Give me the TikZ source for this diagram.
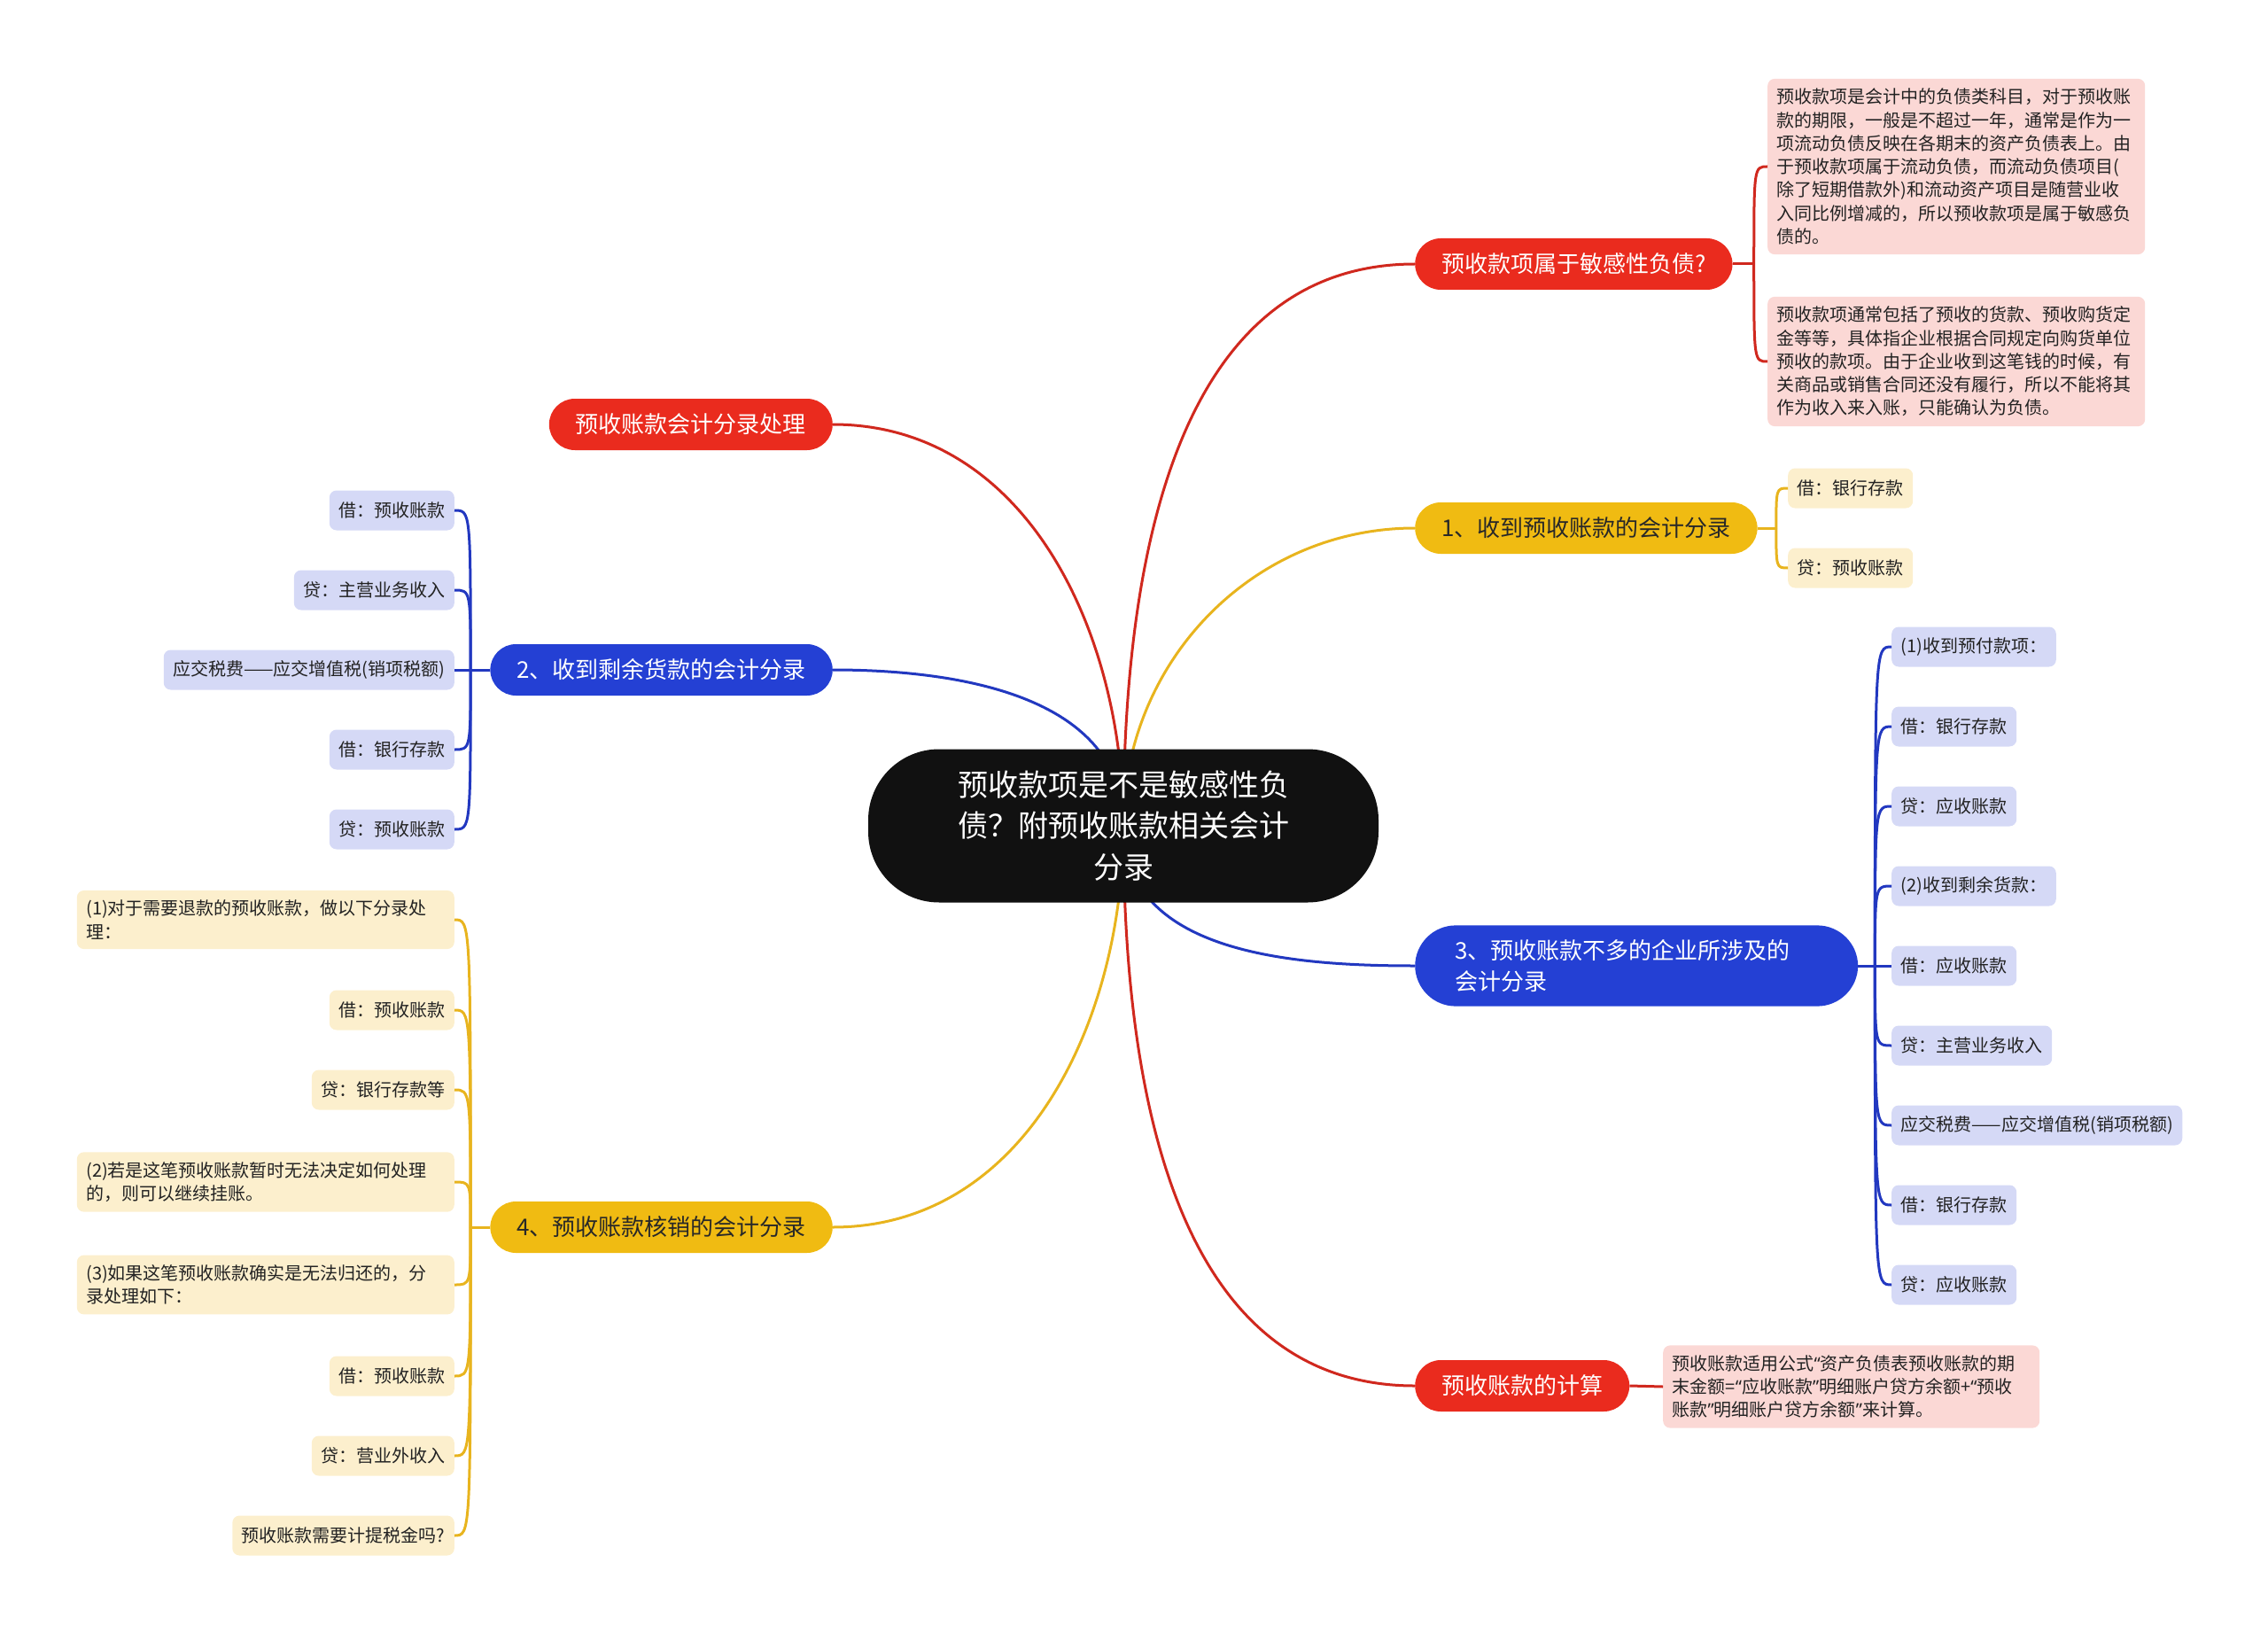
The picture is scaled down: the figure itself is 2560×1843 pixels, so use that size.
\documentclass[tikz,border=0pt]{standalone}
\usepackage{fontspec}
\setmainfont{Noto Sans CJK SC}
\newfontfamily\quotefont{Noto Sans}
\newcommand{\openq}{{\quotefont “}}
\newcommand{\closeq}{{\quotefont ”}}
\usetikzlibrary{positioning,backgrounds}

\definecolor{rootblack}{RGB}{17,17,17}
\definecolor{mmred}{RGB}{234,43,30}
\definecolor{mmredline}{RGB}{208,40,30}
\definecolor{mmyellow}{RGB}{240,187,18}
\definecolor{mmyellowline}{RGB}{232,180,30}
\definecolor{mmblue}{RGB}{36,64,212}
\definecolor{mmblueline}{RGB}{34,56,192}
\definecolor{pinkleaf}{RGB}{251,216,213}
\definecolor{lavleaf}{RGB}{213,217,246}
\definecolor{creamleaf}{RGB}{252,239,205}
\definecolor{leaftext}{RGB}{34,34,34}
\definecolor{darktext}{RGB}{40,40,40}

\begin{document}
\begin{tikzpicture}[
  x=1pt, y=-1pt,
  root/.style={fill=rootblack, text=white, rounded corners=80pt, minimum width=576pt, minimum height=173pt, align=center, font=\fontsize{34}{46.5}\selectfont},
  topic/.style={rounded corners=29pt, minimum height=58pt, inner xsep=30pt, font=\fontsize{26}{35}\selectfont},
  redtopic/.style={topic, fill=mmred, text=white},
  bluetopic/.style={topic, fill=mmblue, text=white},
  yellowtopic/.style={topic, fill=mmyellow, text=darktext},
  leaf/.style={rounded corners=8pt, minimum height=45pt, inner xsep=10.5pt, inner ysep=11pt, align=left, text=leaftext, font=\fontsize{20}{26.3}\selectfont},
  note/.style={leaf, text width=405pt},
  link/.style={line width=3pt}
]
\useasboundingbox (0,0) rectangle (2560,1843);

\node[root] (root) at (1268,932) {预收款项是不是敏感性负\\债？附预收账款相关会计\\分录};

\node[redtopic, anchor=west] (q) at (1597,298) {预收款项属于敏感性负债?};
\node[yellowtopic, anchor=west] (e1) at (1597,596) {1、收到预收账款的会计分录};
\node[bluetopic, anchor=west, rounded corners=46pt, text width=410pt, inner xsep=45pt, inner ysep=16pt, align=left] (e3) at (1597,1090) {3、预收账款不多的企业所涉及的\\会计分录};
\node[redtopic, anchor=west] (calc) at (1597,1564) {预收账款的计算};
\node[redtopic, anchor=east] (lp) at (940,479) {预收账款会计分录处理};
\node[bluetopic, anchor=east] (e2) at (940,756) {2、收到剩余货款的会计分录};
\node[yellowtopic, anchor=east] (e4) at (940,1385) {4、预收账款核销的会计分录};

\node[note, fill=pinkleaf, anchor=west] (q1) at (1995,188) {预收款项是会计中的负债类科目，对于预收账\\款的期限，一般是不超过一年，通常是作为一\\项流动负债反映在各期末的资产负债表上。由\\于预收款项属于流动负债，而流动负债项目(\\除了短期借款外)和流动资产项目是随营业收\\入同比例增减的，所以预收款项是属于敏感负\\债的。};
\node[note, fill=pinkleaf, anchor=west] (q2) at (1995,408) {预收款项通常包括了预收的货款、预收购货定\\金等等，具体指企业根据合同规定向购货单位\\预收的款项。由于企业收到这笔钱的时候，有\\关商品或销售合同还没有履行，所以不能将其\\作为收入来入账，只能确认为负债。};

\node[leaf, fill=creamleaf, anchor=west] (e11) at (2018,551) {借：银行存款};
\node[leaf, fill=creamleaf, anchor=west] (e12) at (2018,641) {贷：预收账款};

\node[leaf, fill=lavleaf, anchor=west] (e31) at (2135,730) {(1)收到预付款项：};
\node[leaf, fill=lavleaf, anchor=west] (e32) at (2135,820) {借：银行存款};
\node[leaf, fill=lavleaf, anchor=west] (e33) at (2135,910) {贷：应收账款};
\node[leaf, fill=lavleaf, anchor=west] (e34) at (2135,1000) {(2)收到剩余货款：};
\node[leaf, fill=lavleaf, anchor=west] (e35) at (2135,1090) {借：应收账款};
\node[leaf, fill=lavleaf, anchor=west] (e36) at (2135,1180) {贷：主营业务收入};
\node[leaf, fill=lavleaf, anchor=west] (e37) at (2135,1270) {应交税费——应交增值税(销项税额)};
\node[leaf, fill=lavleaf, anchor=west] (e38) at (2135,1360) {借：银行存款};
\node[leaf, fill=lavleaf, anchor=west] (e39) at (2135,1450) {贷：应收账款};

\node[note, fill=pinkleaf, anchor=west, text width=404pt] (calc1) at (1877,1565) {预收账款适用公式\openq 资产负债表预收账款的期\\末金额=\openq 应收账款\closeq 明细账户贷方余额+\openq 预收\\账款\closeq 明细账户贷方余额\closeq 来计算。};

\node[leaf, fill=lavleaf, anchor=east] (e21) at (513,576) {借：预收账款};
\node[leaf, fill=lavleaf, anchor=east] (e22) at (513,666) {贷：主营业务收入};
\node[leaf, fill=lavleaf, anchor=east] (e23) at (513,756) {应交税费——应交增值税(销项税额)};
\node[leaf, fill=lavleaf, anchor=east] (e24) at (513,846) {借：银行存款};
\node[leaf, fill=lavleaf, anchor=east] (e25) at (513,936) {贷：预收账款};

\node[note, fill=creamleaf, anchor=east] (e41) at (513,1038) {(1)对于需要退款的预收账款，做以下分录处\\理：};
\node[leaf, fill=creamleaf, anchor=east] (e42) at (513,1140) {借：预收账款};
\node[leaf, fill=creamleaf, anchor=east] (e43) at (513,1230) {贷：银行存款等};
\node[note, fill=creamleaf, anchor=east] (e44) at (513,1334) {(2)若是这笔预收账款暂时无法决定如何处理\\的，则可以继续挂账。};
\node[note, fill=creamleaf, anchor=east] (e45) at (513,1450) {(3)如果这笔预收账款确实是无法归还的，分\\录处理如下：};
\node[leaf, fill=creamleaf, anchor=east] (e46) at (513,1553) {借：预收账款};
\node[leaf, fill=creamleaf, anchor=east] (e47) at (513,1643) {贷：营业外收入};
\node[leaf, fill=creamleaf, anchor=east] (e48) at (513,1733) {预收账款需要计提税金吗?};

\begin{pgfonlayer}{background}
\draw[link, mmredline] (root.center) to[out=90,in=180] (q.west);
\draw[link, mmyellowline] (root.center) to[out=90,in=180] (e1.west);
\draw[link, mmblueline] (root.center) to[out=-90,in=180] (e3.west);
\draw[link, mmredline] (root.center) to[out=-90,in=180] (calc.west);
\draw[link, mmredline] (root.center) to[out=90,in=0] (lp.east);
\draw[link, mmblueline] (root.center) to[out=90,in=0] (e2.east);
\draw[link, mmyellowline] (root.center) to[out=-90,in=0] (e4.east);
\end{pgfonlayer}

\draw[link, mmredline] (q.east) -- ++(24,0) coordinate (tq);
\draw[link, mmredline] (tq) .. controls (tq |- q1.west) .. (q1.west);
\draw[link, mmredline] (tq) .. controls (tq |- q2.west) .. (q2.west);

\draw[link, mmyellowline] (e1.east) -- ++(21,0) coordinate (t1);
\draw[link, mmyellowline] (t1) .. controls (t1 |- e11.west) .. (e11.west);
\draw[link, mmyellowline] (t1) .. controls (t1 |- e12.west) .. (e12.west);

\draw[link, mmblueline] (e3.east) -- ++(19,0) coordinate (t3);
\draw[link, mmblueline] (t3) .. controls (t3 |- e31.west) .. (e31.west);
\draw[link, mmblueline] (t3) .. controls (t3 |- e32.west) .. (e32.west);
\draw[link, mmblueline] (t3) .. controls (t3 |- e33.west) .. (e33.west);
\draw[link, mmblueline] (t3) .. controls (t3 |- e34.west) .. (e34.west);
\draw[link, mmblueline] (t3) -- (e35.west);
\draw[link, mmblueline] (t3) .. controls (t3 |- e36.west) .. (e36.west);
\draw[link, mmblueline] (t3) .. controls (t3 |- e37.west) .. (e37.west);
\draw[link, mmblueline] (t3) .. controls (t3 |- e38.west) .. (e38.west);
\draw[link, mmblueline] (t3) .. controls (t3 |- e39.west) .. (e39.west);

\draw[link, mmredline] (calc.east) -- (calc1.west);

\draw[link, mmblueline] (e2.west) -- ++(-22,0) coordinate (t2);
\draw[link, mmblueline] (t2) .. controls (t2 |- e21.east) .. (e21.east);
\draw[link, mmblueline] (t2) .. controls (t2 |- e22.east) .. (e22.east);
\draw[link, mmblueline] (t2) -- (e23.east);
\draw[link, mmblueline] (t2) .. controls (t2 |- e24.east) .. (e24.east);
\draw[link, mmblueline] (t2) .. controls (t2 |- e25.east) .. (e25.east);

\draw[link, mmyellowline] (e4.west) -- ++(-22,0) coordinate (t4);
\draw[link, mmyellowline] (t4) .. controls (t4 |- e41.east) .. (e41.east);
\draw[link, mmyellowline] (t4) .. controls (t4 |- e42.east) .. (e42.east);
\draw[link, mmyellowline] (t4) .. controls (t4 |- e43.east) .. (e43.east);
\draw[link, mmyellowline] (t4) .. controls (t4 |- e44.east) .. (e44.east);
\draw[link, mmyellowline] (t4) .. controls (t4 |- e45.east) .. (e45.east);
\draw[link, mmyellowline] (t4) .. controls (t4 |- e46.east) .. (e46.east);
\draw[link, mmyellowline] (t4) .. controls (t4 |- e47.east) .. (e47.east);
\draw[link, mmyellowline] (t4) .. controls (t4 |- e48.east) .. (e48.east);
\end{tikzpicture}
\end{document}
